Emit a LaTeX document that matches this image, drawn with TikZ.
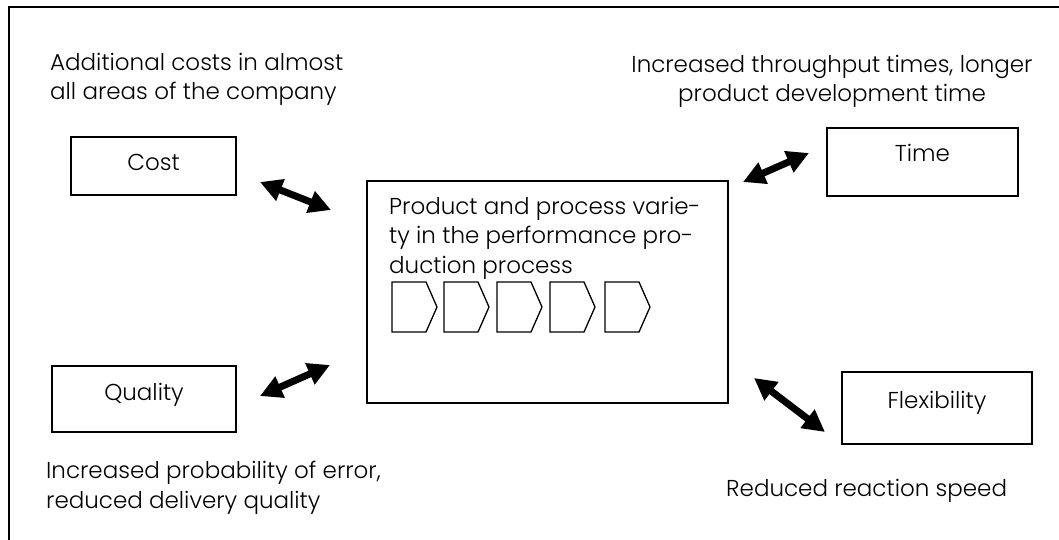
\documentclass[tikz,border=0pt]{standalone}
\usepackage{fontspec}
\setmainfont{Poppins Light}
\usetikzlibrary{arrows.meta}
\begin{document}
\begin{tikzpicture}[x=1pt,y=-1pt,
  frame/.style={line width=1.6pt},
  box/.style={draw, line width=1.6pt, inner sep=0pt},
  lbl/.style={font=\fontsize{23}{29}\selectfont, inner sep=0pt, anchor=base},
  note/.style={font=\fontsize{23}{29.5}\selectfont, inner sep=0pt},
  link/.style={line width=7pt,
    {Triangle[length=22pt,width=22pt]}-{Triangle[length=22pt,width=22pt]}},
  chev/.style={draw, line width=1.3pt, line join=miter}]
\useasboundingbox (0,0) rectangle (1059,540);
\clip (0,0) rectangle (1059,540);
% outer frame
\draw[frame] (9,560) -- (9,7) -- (1080,7);

% factor boxes
\node[box, minimum width=165pt, minimum height=58pt] (cost) at (153.5,166) {};
\node[box, minimum width=191pt, minimum height=68pt] (time) at (922.5,162) {};
\node[box, minimum width=184pt, minimum height=66pt] (quality) at (144,399) {};
\node[box, minimum width=190pt, minimum height=72pt] (flex) at (937,408) {};
\node[box, minimum width=361pt, minimum height=222pt] (core) at (547.5,292) {};

\node[lbl] (costlbl) at (153.5,171) {Cost};
\node[lbl] (timelbl) at (922.5,162) {Time};
\node[lbl] (qualitylbl) at (144,400) {Quality};
\node[lbl] (flexlbl) at (937,408) {Flexibility};

% central text and process chain
\node[note, anchor=north west, align=left] (coretext) at (389,197)
  {Product and process varie-\\ty in the performance pro-\\duction process};
\foreach \x in {392,444,497,550,605}{
  \draw[chev] (\x,282) -- (\x+34,282) -- (\x+45,307) -- (\x+34,332) -- (\x,332) -- cycle;
}

% effect descriptions
\node[note, anchor=north west, align=left] (costnote) at (50,53)
  {Additional costs in almost\\all areas of the company};
\node[note, anchor=north, align=center] (timenote) at (832,55)
  {Increased throughput times, longer\\product development time};
\node[note, anchor=north west, align=left] (qualitynote) at (46,461)
  {Increased probability of error,\\reduced delivery quality};
\node[note, anchor=base west] (flexnote) at (726,496) {Reduced reaction speed};

% double arrows
\coordinate (ca) at (260,182);  \coordinate (cb) at (331,210);
\coordinate (ta) at (743,182);  \coordinate (tb) at (809,153);
\coordinate (qa) at (260,396);  \coordinate (qb) at (330,365);
\coordinate (fa) at (754,378);  \coordinate (fb) at (825,432);
\draw[link] (ca) -- (cb);
\draw[link] (ta) -- (tb);
\draw[link] (qa) -- (qb);
\draw[link] (fa) -- (fb);
\end{tikzpicture}
\end{document}
